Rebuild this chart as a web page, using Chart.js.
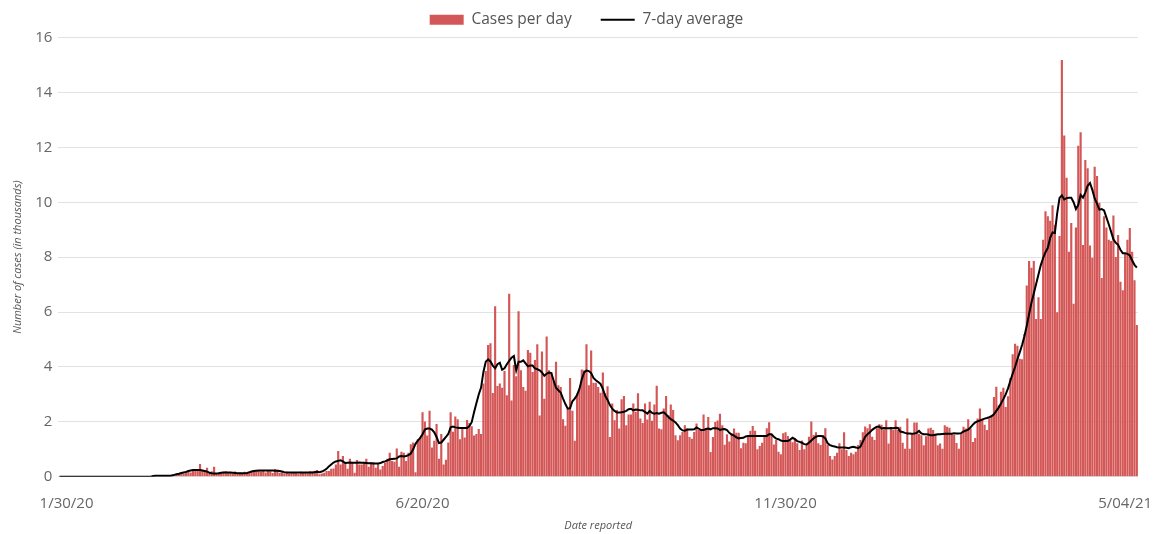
<!DOCTYPE html>
<html>
<head>
<meta charset="utf-8">
<script src="https://cdn.jsdelivr.net/npm/chart.js@4/dist/chart.umd.min.js"></script>
<style>
    body { margin: 0; background: #fff; }
    #wrap { width: 1171px; height: 534px; }
</style>
</head>
<body>
<div id="wrap"><canvas id="myChart"></canvas></div>
<script>
const casesJanMar = [0,0,0,0,0,0,0,0,0,0,0,0,0,0,0,0,0,0,0,0,0,0,0,0,0,0,0,0,0,0,0,0,0,0,0,0,0,0,0,0];
const casesMarMay = [0.03,0.05,0.02,0.06,0.04,0.05,0.07,0.04,0.08,0.1,0.12,0.09,0.14,0.12,0.18,0.2,0.16,0.24,0.22,0.26,
    0.47,0.25,0.22,0.33,0.12,0.2,0.37,0.12,0.16,0.14,0.18,0.2,0.15,0.17,0.12,0.19,0.14,0.16,0.1,0.18,
    0.15,0.2,0.18,0.24,0.2,0.22,0.19,0.23,0.16,0.21,0.2,0.14,0.28,0.26,0.15,0.17,0.13,0.18,0.12,0.16,
    0.14,0.17,0.11,0.18,0.15,0.16,0.13,0.2,0.19,0.22,0.25];
const casesMayJul = [0.09,0.12,0.15,0.21,0.21,0.29,0.3,0.45,0.94,0.45,0.76,0.51,0.29,0.66,0.54,0.15,0.61,0.45,0.45,0.51,
    0.66,0.37,0.54,0.54,0.33,0.51,0.27,0.39,0.51,0.66,0.88,0.58,0.55,1.03,0.37,0.91,0.88,0.58,0.88,1.19,
    1.25,0.17,1.37,1.43,2.35,2.01,1.5,2.41,1.07,1.31,1.92,0.66,1.56,0.45,0.62];
const casesJulSep = [1.25,2.35,1.64,2.2,2.1,1.37,1.76,1.43,2.07,1.96,1.84,1.5,1.56,1.74,1.56,3.4,3.85,4.8,4.86,3.05,
    6.21,3.31,3.4,3.24,3.85,2.97,6.67,2.78,4.07,3.66,6.03,3.88,3.27,3.13,4.62,4.52,3.82,4.25,4.83,2.23,
    4.56,2.84,5.11,3.88,3.8,3.5,4.19,3.33,3.27,2.1,1.86,2.5,3.6,2.41,1.31,3.03,3.21,3.91,3.88,4.83,
    3.33,4.6,3.43,3.43,3.27];
const casesSepNov = [3.06,3.8,3.04,3.3,1.45,2.67,2.06,2.43,1.76,2.82,2.94,1.88,2.27,2.27,2.67,2.37,3.04,2.12,1.96,2.67,
    2.09,2.73,2.04,2.63,3.32,1.76,1.73,2.49,2.94,2.24,2.63,2.43,1.51,1.33,1.51,1.63,1.88,1.76,1.45,1.39,
    1.63,1.94,1.7,1.7,2.27,1.76,2.18,0.9,1.45,2.0,2.05,2.3,1.88,1.17,1.55,1.29,1.57,1.76,1.6,1.6];
const casesNovJan = [1.04,1.24,1.22,1.49,1.68,1.85,1.68,1.0,1.12,1.24,1.49,1.77,1.99,1.52,1.18,1.34,0.91,0.82,1.59,1.62,
    1.49,1.34,1.26,1.4,1.22,0.98,1.32,1.0,1.16,1.46,2.01,1.52,1.62,1.22,1.16,1.52,1.77,1.16,0.76,0.63,
    0.76,0.88,1.22,1.0,1.62,0.98,0.76,0.88,0.82,0.91,1.16,1.34,1.62,1.83,1.77,1.91,1.46,1.34,1.77,1.91];
const casesJanMar21 = [1.9,1.72,2.06,1.21,1.76,1.7,2.06,1.7,1.82,1.24,1.02,2.12,1.02,1.57,1.98,1.98,1.57,1.51,1.15,1.48,
    1.76,1.79,1.7,1.57,1.15,1.21,1.02,1.88,1.82,1.79,1.57,1.54,1.23,1.02,1.57,1.82,1.76,2.1,1.76,1.27,
    1.41,2.12,2.49,2.12,1.9,1.7,2.12,2.24,2.91,3.28,2.61,3.1];
const casesMarApr21 = [3.24,2.54,2.93,3.6,4.46,4.85,4.77,4.3,4.28,5.2,6.97,7.86,7.61,7.86,5.75,6.54,5.75,8.63,9.67,9.49,
    9.33,9.89,9.18,5.99,8.77,15.18];
const casesAprMay21 = [12.43,10.89,8.2,9.24,6.3,9.08,12.06,12.55,8.44,11.54,11.24,8.42,7.98,11.29,10.96,9.98,7.24,9.49,9.08,8.63,
    8.59,9.52,8.01,8.81,7.1,6.79,8.14,8.63,9.06,8.2,7.16,5.53];

const avgJanMar = [0,0,0,0,0,0,0,0,0,0,0,0,0,0,0,0,0,0,0,0,0,0,0,0,0,0,0,0,0,0,0,0,0,0,0,0,0,0,0,0];
const avgMarMay = [0.03,0.04,0.04,0.04,0.04,0.04,0.04,0.04,0.05,0.07,0.09,0.11,0.14,0.16,0.18,0.21,0.23,0.25,0.25,0.25,
    0.25,0.23,0.21,0.19,0.15,0.13,0.12,0.12,0.13,0.15,0.16,0.16,0.16,0.16,0.15,0.14,0.13,0.13,0.13,0.13,
    0.14,0.16,0.19,0.21,0.22,0.23,0.23,0.23,0.23,0.23,0.23,0.23,0.22,0.22,0.21,0.19,0.17,0.16,0.16,0.16,
    0.16,0.16,0.16,0.16,0.16,0.16,0.16,0.16,0.16,0.17,0.18];
const avgMayJul = [0.17,0.19,0.23,0.29,0.38,0.45,0.52,0.56,0.58,0.6,0.56,0.5,0.51,0.52,0.51,0.51,0.51,0.52,0.51,0.51,
    0.5,0.49,0.49,0.48,0.48,0.48,0.5,0.54,0.56,0.6,0.64,0.65,0.66,0.67,0.74,0.76,0.74,0.76,0.79,0.85,
    1.0,1.2,1.32,1.42,1.55,1.72,1.76,1.76,1.72,1.62,1.45,1.23,1.25,1.35,1.45];
const avgJulSep = [1.56,1.8,1.83,1.8,1.79,1.78,1.78,1.78,1.78,1.85,1.99,2.35,2.68,3.0,3.25,3.82,4.19,4.28,4.2,4.05,
    3.95,4.1,4.15,3.9,3.95,4.1,4.22,4.34,4.4,3.88,4.19,4.19,4.24,4.13,4.02,4.05,4.05,3.95,3.92,3.88,
    3.8,3.68,3.75,3.8,3.78,3.5,3.24,3.15,3.07,2.85,2.65,2.48,2.5,2.75,2.85,2.98,3.2,3.55,3.8,3.87,
    3.85,3.78,3.6,3.52,3.45];
const avgSepNov = [3.38,3.2,2.95,2.8,2.61,2.48,2.4,2.34,2.34,2.35,2.37,2.4,2.46,2.48,2.42,2.45,2.44,2.42,2.42,2.36,
    2.3,2.4,2.33,2.3,2.32,2.3,2.33,2.35,2.27,2.18,2.1,2.05,1.98,1.88,1.76,1.69,1.68,1.72,1.72,1.72,
    1.73,1.8,1.75,1.7,1.7,1.74,1.76,1.73,1.77,1.77,1.76,1.71,1.73,1.74,1.7,1.6,1.54,1.5,1.44,1.4];
const avgNovJan = [1.41,1.42,1.47,1.49,1.49,1.49,1.49,1.49,1.49,1.49,1.49,1.49,1.55,1.55,1.46,1.39,1.37,1.32,1.3,1.3,
    1.3,1.36,1.42,1.37,1.3,1.27,1.24,1.19,1.18,1.24,1.32,1.4,1.46,1.49,1.49,1.47,1.4,1.22,1.15,1.12,
    1.1,1.08,1.07,1.07,1.07,1.06,1.04,1.08,1.09,1.07,1.04,1.1,1.28,1.46,1.55,1.62,1.71,1.77,1.82,1.83];
const avgJanMar21 = [1.76,1.78,1.77,1.77,1.78,1.77,1.79,1.78,1.65,1.63,1.6,1.58,1.58,1.57,1.58,1.6,1.67,1.58,1.55,1.55,
    1.54,1.51,1.51,1.53,1.55,1.55,1.56,1.57,1.57,1.57,1.57,1.59,1.58,1.58,1.59,1.65,1.68,1.72,1.8,1.9,
    1.98,2.02,2.05,2.08,2.12,2.14,2.17,2.21,2.28,2.4,2.52,2.67];
const avgMarApr21 = [2.83,3.0,3.22,3.5,3.76,4.0,4.28,4.53,4.8,5.12,5.5,5.93,6.34,6.68,7.02,7.37,7.71,7.97,8.18,8.34,
    8.7,8.9,8.88,9.6,10.16,10.25];
const avgAprMay21 = [10.1,10.15,10.16,10.16,10.0,9.75,9.9,10.27,10.17,10.35,10.6,10.7,10.45,10.14,9.95,9.73,9.75,9.7,9.45,9.2,
    8.93,8.65,8.52,8.45,8.27,8.14,8.14,8.12,8.06,7.88,7.72,7.62];

const cases = [].concat(casesJanMar, casesMarMay, casesMayJul, casesJulSep, casesSepNov,
    casesNovJan, casesJanMar21, casesMarApr21, casesAprMay21);
const avg7 = [].concat(avgJanMar, avgMarMay, avgMayJul, avgJulSep, avgSepNov,
    avgNovJan, avgJanMar21, avgMarApr21, avgAprMay21);

// etiquetas del eje x
const tickLabels = ['1/30/20', '6/20/20', '11/30/20', '5/04/21'];
const tickAt = [3, 155, 310, 455];

// un dia por barra a partir del 30 de enero de 2020
const days = [];
for (let i = 0; i < cases.length; i++) {
    let d = new Date(2020, 0, 30 + i);
    days.push((d.getMonth() + 1) + '/' + d.getDate() + '/' + String(d.getFullYear()).slice(2));
}

const ctx = document.getElementById('myChart').getContext('2d');
const chart = new Chart(ctx, {
    data: {
        labels: days,
        datasets: [{
            type: 'bar',
            label: 'Cases per day',
            data: cases,
            backgroundColor: '#d45757',
            pointStyle: 'rect',
            categoryPercentage: 1,
            barPercentage: 0.92,
            order: 1
        }, {
            type: 'line',
            label: '7-day average',
            data: avg7,
            borderColor: '#000',
            backgroundColor: '#000',
            borderWidth: 2,
            pointRadius: 0,
            pointStyle: 'line',
            tension: 0,
            order: 0
        }]
    },
    options: {
        responsive: true,
        maintainAspectRatio: false,
        animation: false,
        layout: { padding: { left: 9, right: 7, top: -17, bottom: 2 } },
        plugins: {
            tooltip: { enabled: false },
            legend: {
                position: 'top',
                labels: {
                    usePointStyle: true,
                    pointStyleWidth: 34,
                    boxHeight: 10,
                    padding: 29,
                    color: '#555',
                    font: { family: 'Open Sans', size: 15.5 },
                    sort: (a, b) => a.datasetIndex - b.datasetIndex
                }
            }
        },
        scales: {
            x: {
                grid: { display: false },
                border: { display: false },
                // hueco a la derecha del area de dibujo
                afterFit: function (scale) { scale.paddingRight = 33; },
                ticks: {
                    autoSkip: false,
                    maxRotation: 0,
                    color: '#666',
                    padding: 10,
                    font: { family: 'Open Sans', size: 15 },
                    callback: function (value, index) {
                        let k = tickAt.indexOf(index);
                        return k >= 0 ? tickLabels[k] : '';
                    }
                },
                title: {
                    display: true,
                    text: 'Date reported',
                    color: '#555',
                    padding: { top: -4, bottom: 0 },
                    font: { family: 'Open Sans', size: 11, style: 'italic' }
                }
            },
            y: {
                min: 0,
                max: 16,
                grid: { color: '#e2e2e2', drawTicks: false },
                border: { display: false },
                ticks: {
                    stepSize: 2,
                    color: '#666',
                    padding: 6,
                    font: { family: 'Open Sans', size: 15 }
                },
                title: {
                    display: true,
                    text: 'Number of cases (in thousands)',
                    color: '#555',
                    padding: { top: 2, bottom: 5 },
                    font: { family: 'Open Sans', size: 11, style: 'italic' }
                }
            }
        }
    }
});
</script>
</body>
</html>
